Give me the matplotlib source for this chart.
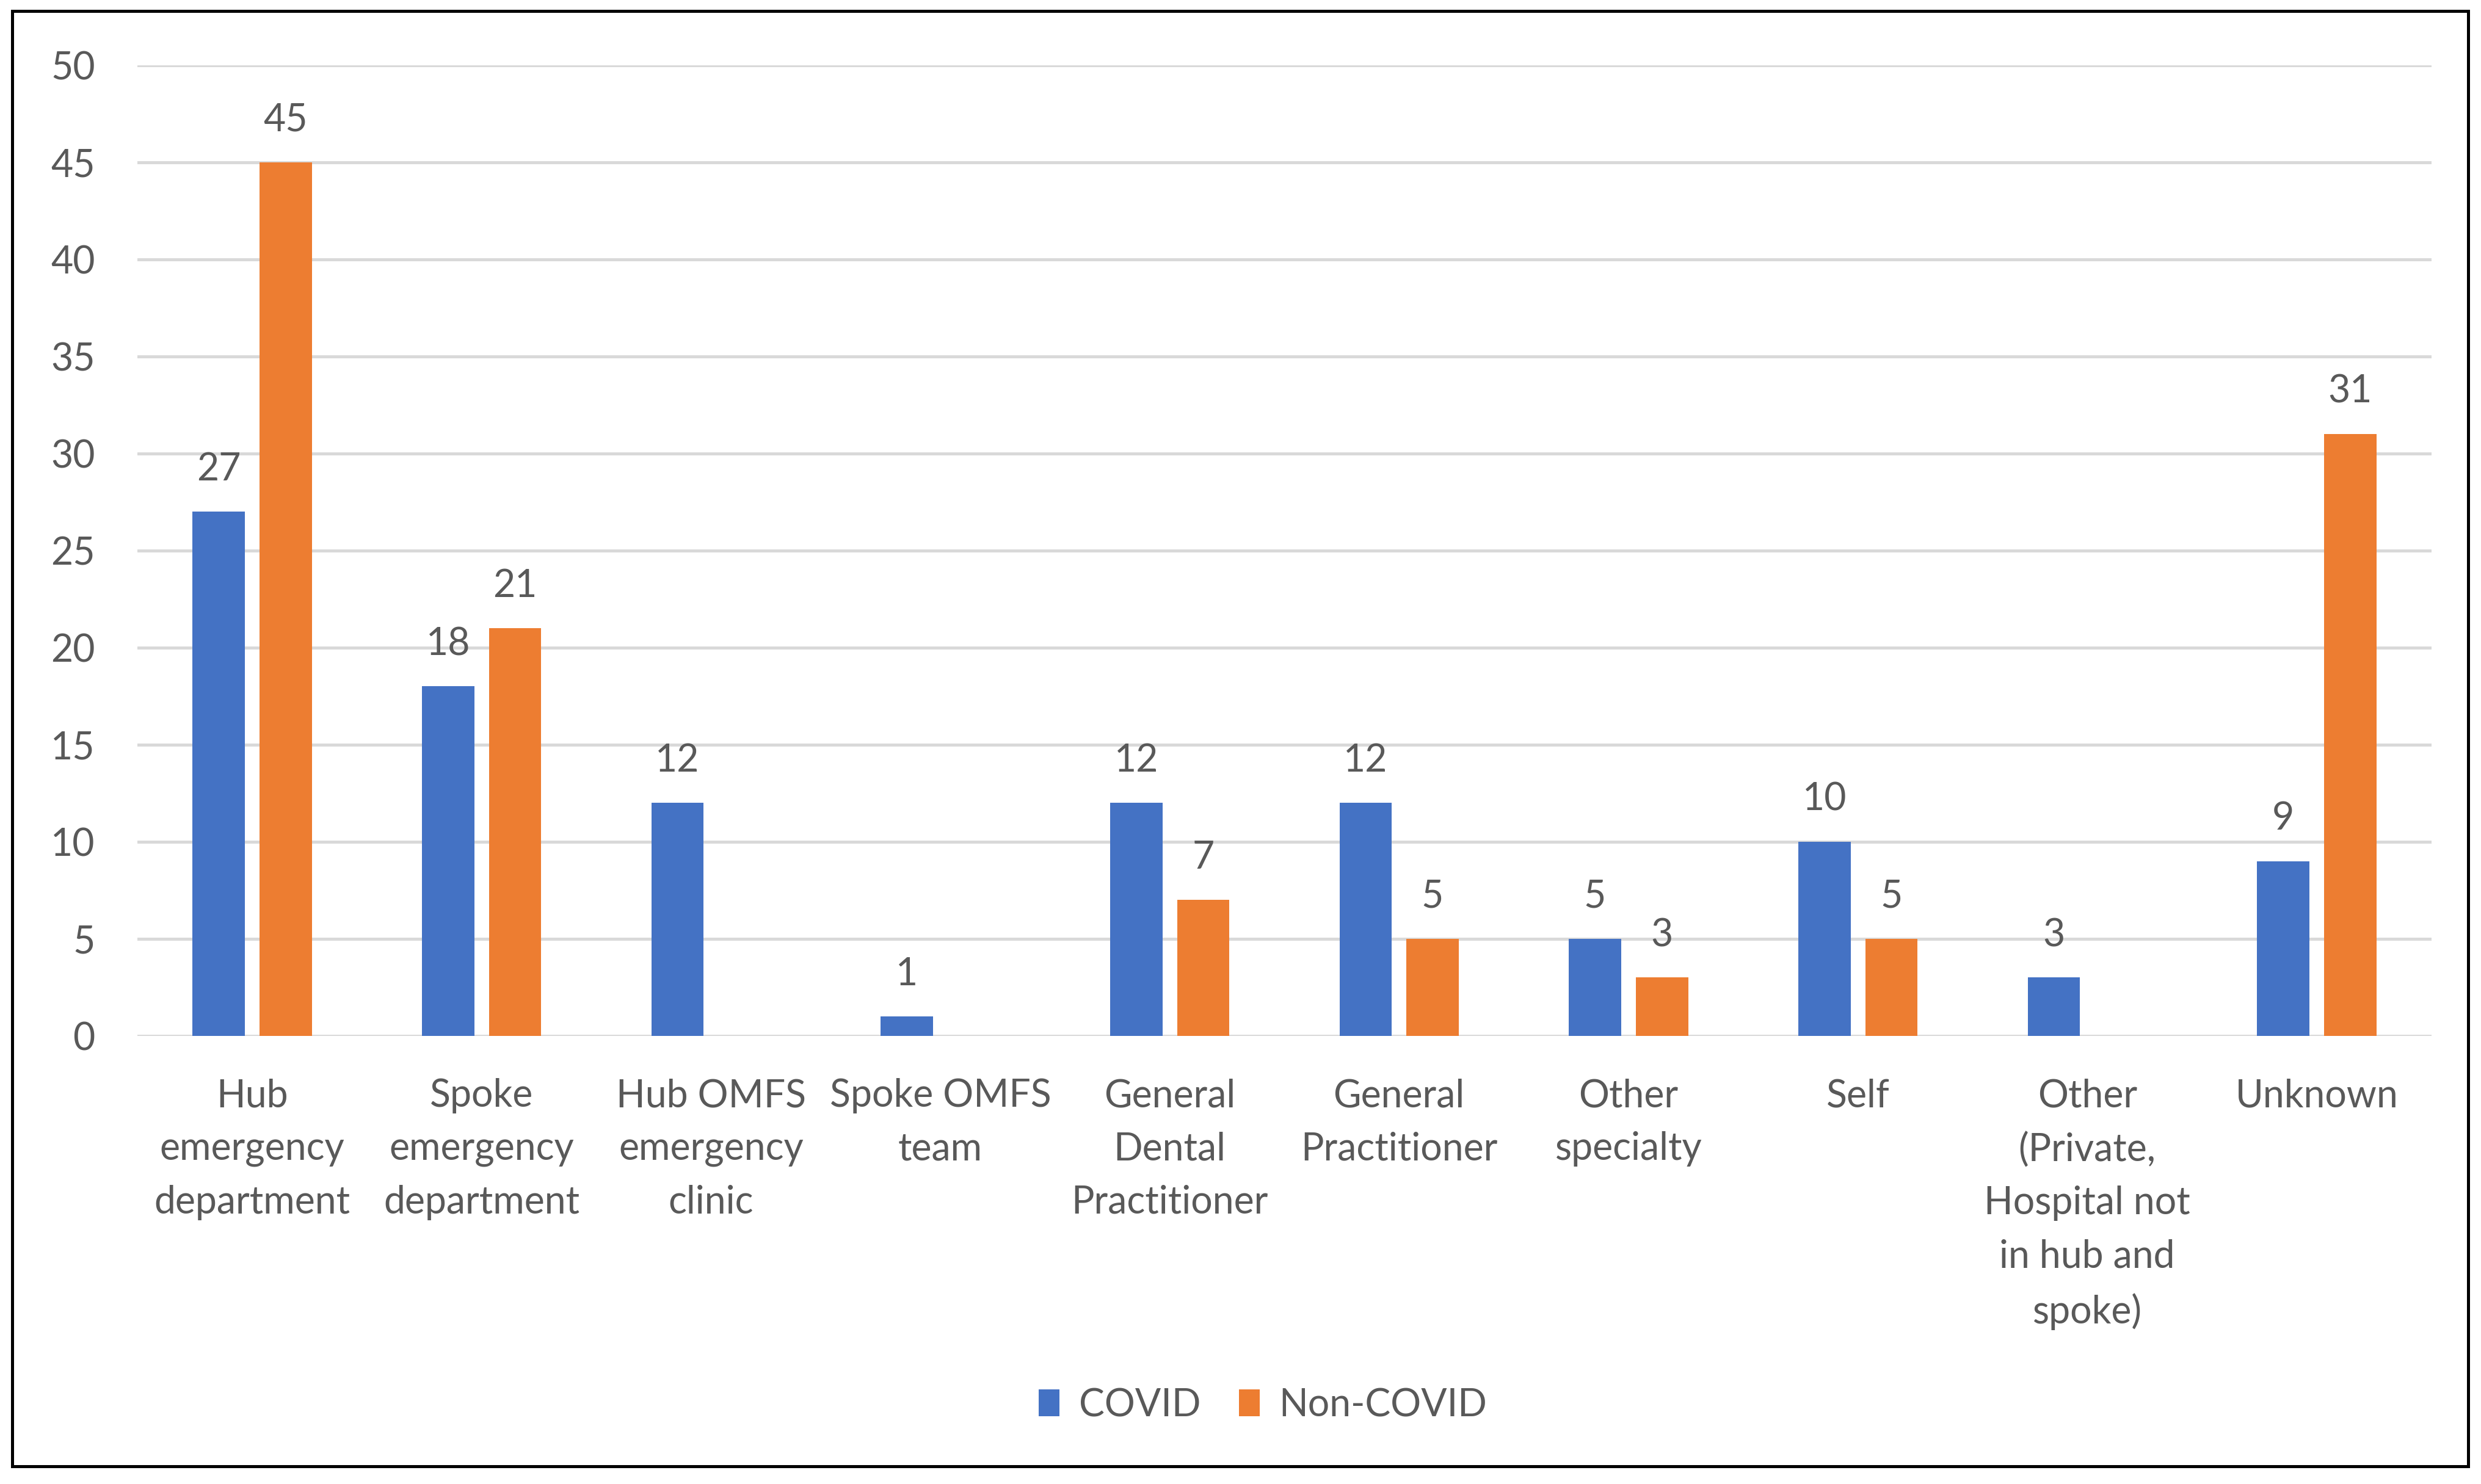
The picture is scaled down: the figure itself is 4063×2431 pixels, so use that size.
import numpy as np
import matplotlib.pyplot as plt
from matplotlib.patches import Rectangle

# referral source categories and counts
categories = [
    "Hub\nemergency\ndepartment",
    "Spoke\nemergency\ndepartment",
    "Hub OMFS\nemergency\nclinic",
    "Spoke OMFS\nteam",
    "General\nDental\nPractitioner",
    "General\nPractitioner",
    "Other\nspecialty",
    "Self",
    "Other\n(Private,\nHospital not\nin hub and\nspoke)",
    "Unknown",
]
covid = [27, 18, 12, 1, 12, 12, 5, 10, 3, 9]
non_covid = [45, 21, 0, 0, 7, 5, 3, 5, 0, 31]
series_names = ["COVID", "Non-COVID"]
yticks = [0, 5, 10, 15, 20, 25, 30, 35, 40, 45, 50]

BLUE = "#4472C4"
ORANGE = "#ED7D31"
GREY_TXT = "#595959"
GRID = "#D9D9D9"

plt.rcParams['font.family'] = ['Lato', 'DejaVu Sans']
FS = 45

fig = plt.figure(figsize=(40.63, 24.31), dpi=100)
ax = fig.add_axes([0.0554, 0.302, 0.9246, 0.654])

x = np.arange(len(categories))
w = 0.228
off = 0.146
b1 = ax.bar(x - off, covid, w, color=BLUE, label=series_names[0], zorder=3)
b2 = ax.bar(x + off, non_covid, w, color=ORANGE, label=series_names[1], zorder=3)

for bars, vals in ((b1, covid), (b2, non_covid)):
    ax.bar_label(bars, labels=[str(v) if v else "" for v in vals],
                 padding=29, fontsize=FS, color=GREY_TXT)

ax.set_xlim(-0.5, len(categories) - 0.5)
ax.set_ylim(0, 50)
ax.set_yticks(yticks)
ax.yaxis.grid(True, color=GRID, linewidth=3.6, zorder=0)
ax.set_axisbelow(True)
for s in ax.spines.values():
    s.set_visible(False)

ax.tick_params(axis='y', length=0, pad=50, labelsize=FS, labelcolor=GREY_TXT)
ax.tick_params(axis='x', length=0, pad=50, labelsize=FS, labelcolor=GREY_TXT)
ax.set_xticks(x)
ax.set_xticklabels(categories, linespacing=1.62, va='top')

fig.legend(loc='center', bbox_to_anchor=(0.509, 0.053), ncol=2, frameon=False,
           fontsize=FS, labelcolor=GREY_TXT, handlelength=0.55, handleheight=0.7,
           handletextpad=0.5, columnspacing=1.0)

# outer frame
fig.add_artist(Rectangle((0.0049, 0.0119), 0.9899, 0.9807, transform=fig.transFigure,
                         fill=False, edgecolor='black', linewidth=3.6))

fig.savefig("out.png", dpi=100, facecolor='white')
